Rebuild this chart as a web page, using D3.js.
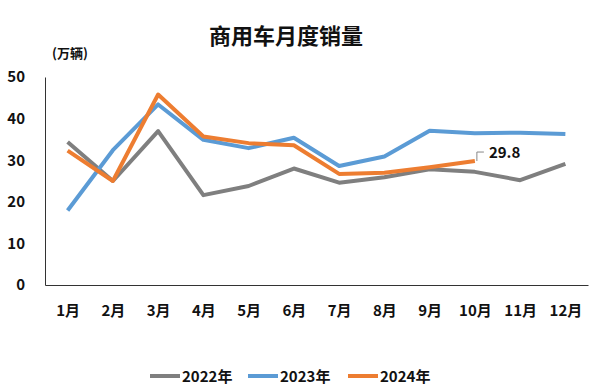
<!DOCTYPE html>
<html>
<head>
<meta charset="utf-8">
<script src="https://cdn.jsdelivr.net/npm/d3@7"></script>
<style>
html,body{margin:0;padding:0;background:#fff;}
svg{display:block;font-family:"Noto Sans CJK SC","Noto Sans",sans-serif;}
</style>
</head>
<body>
<svg id="chart" width="600" height="388"></svg>
<script>
const months = ["1月","2月","3月","4月","5月","6月","7月","8月","9月","10月","11月","12月"];
const yTicks = [0,10,20,30,40,50];
const sales2022 = [34.4,25.0,37.0,21.6,23.8,28.0,24.6,25.9,27.8,27.2,25.2,29.1];
const sales2023 = [17.9,32.4,43.4,34.9,32.9,35.4,28.6,30.9,37.1,36.5,36.6,36.3];
const sales2024 = [32.3,25.0,45.8,35.7,34.1,33.6,26.7,27.0,28.3,29.8];
const seriesNames = ["2022年","2023年","2024年"];
const seriesColors = ["#7f7f7f","#5b9bd5","#ed7d31"];
const seriesData = [sales2022, sales2023, sales2024];
const lastLabel = "29.8";

const svg = d3.select("#chart");

const x = d3.scalePoint().domain(months).range([45, 588]).padding(0.5);
const y = d3.scaleLinear().domain([0, 50]).range([285, 77]);

// title
svg.append("text").attr("x", 286).attr("y", 44).attr("text-anchor", "middle")
  .attr("font-size", 22).attr("font-weight", "bold").attr("fill", "#111")
  .text("商用车月度销量");

// unit
svg.append("text").attr("x", 52).attr("y", 58)
  .attr("font-size", 13).attr("font-weight", "bold").attr("fill", "#111")
  .text("(万辆)");

// y axis
const yAxis = svg.append("g").attr("transform", "translate(45,0)")
  .call(d3.axisLeft(y).tickValues(yTicks).tickSize(0).tickPadding(20));
yAxis.select(".domain").attr("stroke", "#333").attr("stroke-width", 1);
yAxis.selectAll("text").attr("font-size", 15).attr("font-weight", "bold")
  .attr("fill", "#111").attr("font-family", "'Noto Sans CJK SC','Noto Sans',sans-serif");

// x axis
const xAxis = svg.append("g").attr("transform", "translate(0,285)")
  .call(d3.axisBottom(x).tickSize(0).tickPadding(20));
xAxis.select(".domain").attr("stroke", "#333").attr("stroke-width", 1);
xAxis.selectAll("text").attr("font-size", 15).attr("font-weight", "bold")
  .attr("fill", "#111").attr("font-family", "'Noto Sans CJK SC','Noto Sans',sans-serif");

// lines
const line = d3.line().x((d, i) => x(months[i])).y(d => y(d));
seriesData.forEach((data, k) => {
  svg.append("path").datum(data)
    .attr("fill", "none").attr("stroke", seriesColors[k])
    .attr("stroke-width", 4).attr("stroke-linejoin", "round").attr("stroke-linecap", "butt")
    .attr("d", line);
});

// data label for last 2024 point
const lastIdx = sales2024.length - 1;
const lx = x(months[lastIdx]), ly = y(sales2024[lastIdx]);
svg.append("path")
  .attr("d", `M${lx + 2},${ly} L${lx + 2},${ly - 9} L${lx + 9},${ly - 9}`)
  .attr("fill", "none").attr("stroke", "#888").attr("stroke-width", 1);
svg.append("text").attr("x", lx + 14).attr("y", ly - 3)
  .attr("font-size", 15).attr("font-weight", "bold").attr("fill", "#111")
  .text(lastLabel);

// legend
const legendX = [150, 248, 348];
seriesNames.forEach((name, k) => {
  const g = svg.append("g").attr("transform", `translate(${legendX[k]},376)`);
  g.append("line").attr("x1", 0).attr("x2", 30).attr("y1", 0).attr("y2", 0)
    .attr("stroke", seriesColors[k]).attr("stroke-width", 4);
  g.append("text").attr("x", 32).attr("y", 5.5)
    .attr("font-size", 15).attr("font-weight", "bold").attr("fill", "#111")
    .text(name);
});
</script>
</body>
</html>
